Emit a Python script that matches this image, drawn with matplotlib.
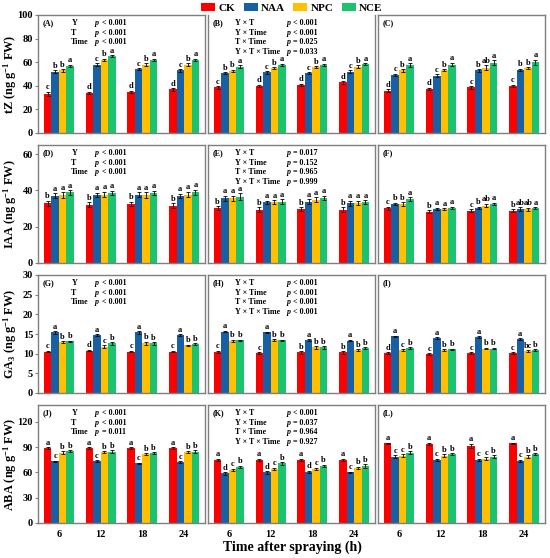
import matplotlib
matplotlib.use("Agg")
import matplotlib.pyplot as plt
import matplotlib.transforms as mtrans
import numpy as np
from matplotlib.patches import Patch

plt.rcParams['font.family'] = ['Liberation Serif', 'DejaVu Serif']
plt.rcParams['font.weight'] = 'bold'
plt.rcParams['mathtext.fontset'] = 'custom'
plt.rcParams['mathtext.rm'] = 'Liberation Serif:bold'
plt.rcParams['mathtext.it'] = 'Liberation Serif:italic:bold'
plt.rcParams['mathtext.bf'] = 'Liberation Serif:bold'

times = ['6', '12', '18', '24']
treatments = ['CK', 'NAA', 'NPC', 'NCE']
colors = ['#FF0000', '#1760A6', '#FFC000', '#1BC36E']

# values: rows = treatments (CK, NAA, NPC, NCE), cols = time points
tz_A = [[33, 34, 35, 37], [52, 58, 54, 53], [53, 62, 58, 58], [57, 65, 62, 62]]
tz_B = [[38.6, 40, 40.8, 42.8], [50.7, 51.3, 50.7, 52], [52.7, 55, 55.8, 56.3], [56.3, 57.7, 57.7, 58.3]]
tz_C = [[36, 37.5, 38.6, 40], [49.3, 48.7, 53, 53.5], [53, 53.2, 55.5, 55], [57.5, 58, 59.7, 60]]
tz_A_err = [[2, 1, 1, 1], [1, 1, 1, 1], [1, 1, 1, 1], [1, 1, 1, 1]]
tz_B_err = [[1, 1, 1, 1], [1, 1, 1, 1], [1, 1, 1, 1], [1, 1, 1, 1]]
tz_C_err = [[1, 1, 1, 1], [1, 1, 1, 1], [1, 1, 2, 1], [1.5, 1.5, 2, 2]]
tz_A_let = [['c', 'd', 'd', 'd'], ['b', 'c', 'c', 'c'], ['b', 'b', 'b', 'b'], ['a', 'a', 'a', 'a']]
tz_B_let = [['c', 'd', 'd', 'd'], ['b', 'c', 'c', 'c'], ['b', 'b', 'b', 'b'], ['a', 'a', 'a', 'a']]
tz_C_let = [['d', 'd', 'c', 'c'], ['c', 'c', 'b', 'b'], ['b', 'b', 'ab', 'b'], ['a', 'a', 'a', 'a']]

iaa_D = [[32.9, 32.2, 32.5, 31.6], [37.1, 37.5, 37.7, 36.9], [37.5, 37.7, 37.5, 37.7], [38.9, 38.6, 38.6, 38.9]]
iaa_E = [[30.2, 29.4, 29.8, 29.4], [35.6, 33.5, 33.8, 32.9], [35.6, 33.5, 34.9, 33.1], [36.6, 33.8, 35.8, 33.5]]
iaa_F = [[30.2, 28.3, 28.7, 28.7], [32.5, 29.8, 30.3, 29.6], [32.5, 29.8, 31.6, 29.6], [35.3, 30.3, 32.5, 30.2]]
iaa_D_err = [[1.3, 1.3, 1.3, 1.2], [1.3, 1.3, 1.3, 1.3], [1.5, 1.5, 1.5, 1.5], [1.3, 1.3, 1.3, 1.5]]
iaa_E_err = [[1.0, 1.2, 1.0, 1.2], [1.5, 0.8, 1.3, 1.5], [1.5, 1.0, 1.5, 1.2], [2.0, 1.2, 1.3, 1.0]]
iaa_F_err = [[0.8, 0.8, 0.8, 0.8], [0.8, 0.6, 0.8, 1.0], [1.0, 0.5, 1.0, 0.8], [1.0, 0.8, 0.8, 0.6]]
iaa_D_let = [['b', 'b', 'b', 'b'], ['a', 'a', 'a', 'a'], ['a', 'a', 'a', 'a'], ['a', 'a', 'a', 'a']]
iaa_E_let = [['b', 'b', 'b', 'b'], ['a', 'a', 'a', 'a'], ['a', 'a', 'a', 'a'], ['a', 'a', 'a', 'a']]
iaa_F_let = [['c', 'b', 'c', 'b'], ['b', 'a', 'b', 'ab'], ['b', 'a', 'ab', 'ab'], ['a', 'a', 'a', 'a']]

ga_G = [[10.5, 10.8, 10.5, 10.5], [15.4, 14.7, 15.4, 14.7], [12.9, 11.8, 12.6, 12.1], [13.1, 12.6, 12.6, 12.4]]
ga_H = [[10.4, 10.1, 10.3, 10.3], [15.6, 15.4, 13.5, 13.3], [13.3, 13.4, 11.6, 11.0], [13.4, 13.4, 11.6, 11.4]]
ga_I = [[10.1, 9.9, 10.1, 10.1], [14.4, 14.0, 14.2, 13.7], [11.0, 11.0, 11.3, 10.7], [11.4, 11.1, 11.3, 10.9]]
ga_G_err = [[0.2, 0.2, 0.2, 0.2], [0.3, 0.3, 0.3, 0.3], [0.2, 0.4, 0.4, 0.2], [0.2, 0.3, 0.3, 0.2]]
ga_H_err = [[0.3, 0.3, 0.3, 0.3], [0.2, 0.2, 0.2, 0.2], [0.3, 0.3, 0.3, 0.2], [0.2, 0.2, 0.3, 0.2]]
ga_I_err = [[0.2, 0.2, 0.2, 0.2], [0.2, 0.2, 0.2, 0.2], [0.2, 0.2, 0.2, 0.2], [0.2, 0.2, 0.2, 0.2]]
ga_G_let = [['c', 'd', 'c', 'c'], ['a', 'a', 'a', 'a'], ['b', 'c', 'b', 'b'], ['b', 'b', 'b', 'b']]
ga_H_let = [['c', 'c', 'b', 'b'], ['a', 'a', 'a', 'a'], ['b', 'b', 'b', 'b'], ['b', 'b', 'b', 'b']]
ga_I_let = [['d', 'c', 'c', 'c'], ['a', 'a', 'a', 'a'], ['c', 'b', 'b', 'bc'], ['b', 'b', 'b', 'b']]

aba_J = [[88.6, 88.6, 88.6, 88.6], [73, 73.7, 70.6, 72.5], [83.5, 84, 81.6, 84], [85.5, 84.7, 82.7, 84.7]]
aba_K = [[74.9, 74.9, 74.9, 74.9], [58.8, 60, 60.8, 60], [62.7, 64.3, 64.3, 65.5], [66.7, 70.6, 67.8, 67.8]]
aba_L = [[94.5, 94.1, 91.4, 94.5], [78.8, 74.9, 74.9, 73.7], [80, 80, 76.5, 78.8], [83.5, 81.6, 78.8, 81.6]]
aba_J_err = [[1, 1, 1, 1], [1, 1, 1, 1], [1.5, 1.5, 1.5, 1.5], [1, 1.5, 1, 1.5]]
aba_K_err = [[1.5, 1.5, 1.5, 1.5], [1.5, 1.5, 1, 1], [1.5, 1.5, 1.5, 1.5], [1.5, 1.5, 1.5, 2]]
aba_L_err = [[1, 1, 2.5, 1], [1.5, 1.5, 1.5, 1.5], [1.5, 1.5, 1.5, 1.5], [1.5, 1.5, 1.5, 1.5]]
aba_J_let = [['a', 'a', 'a', 'a'], ['c', 'c', 'c', 'c'], ['b', 'b', 'b', 'b'], ['b', 'b', 'b', 'b']]
aba_K_let = [['a', 'a', 'a', 'a'], ['d', 'd', 'd', 'c'], ['c', 'c', 'c', 'b'], ['b', 'b', 'b', 'b']]
aba_L_let = [['a', 'a', 'a', 'a'], ['c', 'c', 'c', 'c'], ['c', 'b', 'c', 'b'], ['b', 'b', 'b', 'b']]

ylabels = ['tZ (ng g$^{-1}$ FW)', 'IAA (ng g$^{-1}$ FW)', 'GA$_3$ (ng g$^{-1}$ FW)', 'ABA (ng g$^{-1}$ FW)']
ylims = [100, 65, 30, 140]
yticks = [[0, 20, 40, 60, 80, 100], [0, 20, 40, 60], [0, 5, 10, 15, 20, 25, 30], [0, 30, 60, 90, 120]]
panel_ids = [['(A)', '(B)', '(C)'], ['(D)', '(E)', '(F)'], ['(G)', '(H)', '(I)'], ['(J)', '(K)', '(L)']]
data = [[tz_A, tz_B, tz_C], [iaa_D, iaa_E, iaa_F], [ga_G, ga_H, ga_I], [aba_J, aba_K, aba_L]]
errs = [[tz_A_err, tz_B_err, tz_C_err], [iaa_D_err, iaa_E_err, iaa_F_err],
        [ga_G_err, ga_H_err, ga_I_err], [aba_J_err, aba_K_err, aba_L_err]]
lets = [[tz_A_let, tz_B_let, tz_C_let], [iaa_D_let, iaa_E_let, iaa_F_let],
        [ga_G_let, ga_H_let, ga_I_let], [aba_J_let, aba_K_let, aba_L_let]]

main_keys = ['Y', 'T', 'Time']
main_p = [['p < 0.001', 'p < 0.001', 'p < 0.001'],
          ['p < 0.001', 'p < 0.001', 'p < 0.001'],
          ['p < 0.001', 'p < 0.001', 'p < 0.001'],
          ['p < 0.001', 'p < 0.001', 'p = 0.011']]
inter_keys = ['Y × T', 'Y × Time', 'T × Time', 'Y × T × Time']
inter_p = [['p < 0.001', 'p < 0.001', 'p = 0.025', 'p = 0.033'],
           ['p = 0.017', 'p = 0.152', 'p = 0.965', 'p = 0.999'],
           ['p < 0.001', 'p < 0.001', 'p < 0.001', 'p < 0.001'],
           ['p < 0.001', 'p = 0.037', 'p = 0.964', 'p = 0.927']]

W, H = 550, 558
fig = plt.figure(figsize=(W / 100, H / 100), dpi=100)

col_x = [38, 208, 378]
col_w = 167
row_top = [15, 145, 275, 405]
row_h = 118

x = np.arange(len(times))
bw = 0.18
offsets = (np.arange(4) - 1.5) * bw
spine_col = '#7F7F7F'
fs_ann = 5.8


def ptext(ax, xf, yf, s):
    ax.text(xf, yf, s[0], transform=ax.transAxes, fontsize=fs_ann, fontweight='bold',
            style='italic', va='center', ha='left')
    tr = mtrans.offset_copy(ax.transAxes, fig=fig, x=3.4, y=0, units='points')
    ax.text(xf, yf, s[1:], transform=tr, fontsize=fs_ann, fontweight='bold',
            va='center', ha='left')


for r in range(4):
    for c in range(3):
        ax = fig.add_axes([col_x[c] / W, 1 - (row_top[r] + row_h) / H, col_w / W, row_h / H])
        vals = data[r][c]
        er = errs[r][c]
        lt = lets[r][c]
        for t in range(4):
            ax.bar(x + offsets[t], vals[t], width=bw, color=colors[t], edgecolor='none', zorder=2)
            ax.errorbar(x + offsets[t], vals[t], yerr=er[t], fmt='none', ecolor='black',
                        elinewidth=0.6, capsize=1.2, capthick=0.6, zorder=3)
            for g in range(4):
                ax.annotate(lt[t][g], (x[g] + offsets[t], vals[t][g] + er[t][g]),
                            xytext=(0, 0.3), textcoords='offset points', ha='center', va='bottom',
                            fontsize=6.0, fontweight='bold')
        ax.set_xlim(-0.5, 3.5)
        ax.set_ylim(0, ylims[r])
        for s in ax.spines.values():
            s.set_color(spine_col)
            s.set_linewidth(1.0)
        if r == 0 and c == 1:
            ax.spines['top'].set_visible(False)
        ax.set_xticks(x)
        if r == 3:
            ax.set_xticklabels(times, fontsize=7.5, fontweight='bold')
        else:
            ax.set_xticklabels([])
        ax.tick_params(axis='x', length=0, pad=5)
        if c == 0:
            ax.set_yticks(yticks[r])
            ax.set_yticklabels([str(v) for v in yticks[r]], fontsize=7.5, fontweight='bold')
            ax.tick_params(axis='y', direction='out', length=2, width=0.8, pad=1.5, color=spine_col)
            fig.text(10 / W, 1 - (row_top[r] + row_h / 2) / H, ylabels[r], rotation=90,
                     ha='center', va='center', fontsize=8.8, fontweight='bold')
        else:
            ax.set_yticks([])
        ax.text(0.03, 0.93, panel_ids[r][c], transform=ax.transAxes, fontsize=fs_ann,
                fontweight='bold', va='center', ha='left')
        if c == 0:
            ys = [0.93, 0.85, 0.77]
            for k in range(3):
                ax.text(0.2, ys[k], main_keys[k], transform=ax.transAxes, fontsize=fs_ann,
                        fontweight='bold', va='center', ha='left')
                ptext(ax, 0.34, ys[k], main_p[r][k])
        elif c == 1:
            ys = [0.93, 0.85, 0.77, 0.69]
            for k in range(4):
                ax.text(0.16, ys[k], inter_keys[k], transform=ax.transAxes, fontsize=fs_ann,
                        fontweight='bold', va='center', ha='left')
                ptext(ax, 0.47, ys[k], inter_p[r][k])

handles = [Patch(facecolor=colors[i], edgecolor='none', label=treatments[i]) for i in range(4)]
fig.legend(handles=handles, loc='center', bbox_to_anchor=(292 / W, 1 - 8 / H), ncol=4,
           frameon=False, prop={'weight': 'bold', 'size': 8},
           handlelength=1.25, handleheight=0.75, columnspacing=0.75, handletextpad=0.3,
           borderaxespad=0, borderpad=0)

fig.text(292 / W, 1 - 547 / H, 'Time after spraying (h)', ha='center', va='center',
         fontsize=10, fontweight='bold')

fig.savefig('out.png', dpi=100)
